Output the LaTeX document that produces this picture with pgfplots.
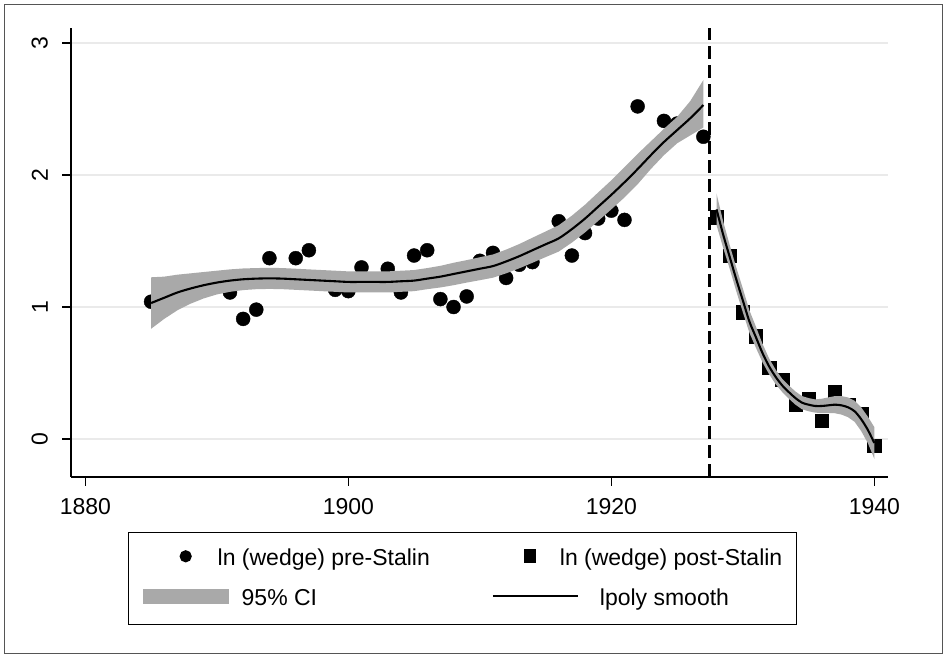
\documentclass[border=0pt]{standalone}
\usepackage{pgfplots}
\usepackage{pgfplotstable}
\pgfplotsset{compat=1.18}
\usepgfplotslibrary{fillbetween}
\usepackage{fontspec}
\setmainfont{Liberation Sans}
\definecolor{cigray}{HTML}{A9A9A9}
\definecolor{gridgray}{HTML}{EAEAEA}
\definecolor{framegray}{HTML}{555555}
\newcommand\lab{\fontsize{23bp}{27bp}\selectfont}
% extra layer so that band and fitted line sit over the observations
\pgfplotsset{layers/withpost/.define layer set={axis background,axis grid,axis ticks,axis lines,axis tick labels,pre main,main,post main,axis descriptions,axis foreground}{}}
\tikzset{fill between/on layer=post main}

% observed ln(wedge), before and after 1928
\pgfplotstableread{
year val
1885 1.04
1891 1.11
1892 0.91
1893 0.98
1894 1.37
1896 1.37
1897 1.43
1899 1.13
1900 1.12
1901 1.30
1903 1.29
1904 1.11
1905 1.39
1906 1.43
1907 1.06
1908 1.00
1909 1.08
1910 1.35
1911 1.41
1912 1.22
1913 1.32
1914 1.34
1916 1.65
1917 1.39
1918 1.56
1919 1.67
1920 1.73
1921 1.66
1922 2.52
1924 2.41
1925 2.39
1927 2.29
}\preobs

\pgfplotstableread{
year val
1928 1.68
1929 1.39
1930 0.96
1931 0.78
1932 0.54
1933 0.45
1934 0.26
1935 0.30
1936 0.14
1937 0.36
1938 0.26
1939 0.19
1940 -0.05
}\postobs

% lpoly fit with 95% band
\pgfplotstableread{
year fit lo hi
1885 1.03 0.835 1.225
1886 1.07 0.91 1.23
1887 1.11 0.975 1.245
1888 1.14 1.025 1.255
1889 1.165 1.065 1.265
1890 1.185 1.095 1.275
1891 1.20 1.115 1.285
1892 1.21 1.128 1.292
1893 1.215 1.135 1.295
1894 1.217 1.137 1.297
1895 1.215 1.135 1.295
1896 1.21 1.13 1.29
1897 1.205 1.125 1.285
1898 1.20 1.12 1.28
1899 1.195 1.115 1.275
1900 1.19 1.11 1.27
1901 1.19 1.11 1.27
1902 1.19 1.11 1.27
1903 1.19 1.11 1.27
1904 1.195 1.115 1.275
1905 1.20 1.12 1.28
1906 1.215 1.135 1.295
1907 1.23 1.148 1.312
1908 1.25 1.165 1.335
1909 1.27 1.185 1.355
1910 1.29 1.203 1.377
1911 1.31 1.222 1.398
1912 1.345 1.255 1.435
1913 1.385 1.293 1.477
1914 1.43 1.335 1.525
1915 1.475 1.378 1.572
1916 1.52 1.42 1.62
1917 1.59 1.488 1.692
1918 1.67 1.565 1.775
1919 1.76 1.652 1.868
1920 1.85 1.74 1.96
1921 1.945 1.83 2.06
1922 2.045 1.93 2.16
1923 2.15 2.045 2.255
1924 2.25 2.15 2.35
1925 2.34 2.24 2.44
1926 2.43 2.30 2.56
1927 2.53 2.36 2.72
}\prefit

\pgfplotstableread{
year fit lo hi
1928.0 1.74 1.62 1.86
1928.5 1.55 1.45 1.65
1929.0 1.38 1.29 1.47
1929.5 1.21 1.12 1.30
1930.0 1.05 0.96 1.14
1930.5 0.89 0.805 0.975
1931.0 0.77 0.69 0.85
1931.5 0.65 0.58 0.72
1932.0 0.55 0.49 0.61
1932.5 0.47 0.415 0.525
1933.0 0.405 0.355 0.455
1933.5 0.355 0.305 0.405
1934.0 0.31 0.26 0.36
1934.5 0.275 0.225 0.325
1935.0 0.26 0.21 0.31
1935.5 0.25 0.20 0.30
1936.0 0.25 0.195 0.305
1936.5 0.255 0.195 0.315
1937.0 0.26 0.195 0.325
1937.5 0.255 0.185 0.325
1938.0 0.24 0.165 0.315
1938.5 0.21 0.13 0.29
1939.0 0.15 0.06 0.24
1939.5 0.07 -0.03 0.17
1940.0 -0.03 -0.15 0.09
}\postfit

\begin{document}
\begin{tikzpicture}
\path (0bp,0bp) rectangle (947bp,658bp);
\draw[framegray, line width=1.2bp] (4.5bp,4.5bp) rectangle (942.5bp,653.5bp);
\begin{axis}[
  set layers=withpost,
  at={(71bp,181bp)}, anchor=south west,
  scale only axis, width=817bp, height=449bp,
  xmin=1878.91, xmax=1941.04, ymin=-0.288, ymax=3.114,
  axis x line*=bottom, axis y line*=left,
  axis line style={black, line width=1.2bp},
  xtick={1880,1900,1920,1940}, ytick={0,1,2,3},
  tick align=outside, major tick length=9bp,
  tick style={black, line width=1.2bp},
  ymajorgrids, grid style={gridgray, line width=1.5bp},
  /pgf/number format/assume math mode=true,
  /pgf/number format/1000 sep={},
  ticklabel style={font=\lab, inner sep=0bp},
  xticklabel style={yshift=-12bp},
  yticklabel style={xshift=-14bp, rotate=90, anchor=south},
  legend columns=2,
  legend cell align=left,
  legend style={at={(0.4792,-0.226)}, anchor=center,
    draw=black, line width=1.2bp, font=\lab,
    inner xsep=14bp, inner ysep=16.5bp, row sep=20.5bp,
    nodes={inner sep=0bp, text height=0.75em, text depth=0.25em},
    /tikz/column 1/.style={column sep=13bp},
    /tikz/column 2/.style={column sep=62bp},
    /tikz/column 3/.style={column sep=21bp}},
]
\addplot[only marks, mark=*, mark size=7bp, black,
  legend image code/.code={\path[draw=none, fill=none] (0bp,-2bp) rectangle (86bp,14bp);
    \fill[black] (43bp,7bp) circle[radius=5.5bp];}]
  table[x=year,y=val]{\preobs};
\addlegendentry{\hspace*{-24bp}ln (wedge) pre-Stalin}
\addplot[only marks, mark=square*, mark size=6.7bp, black,
  legend image code/.code={\path[draw=none, fill=none] (0bp,-2bp) rectangle (85bp,14bp);
    \fill[black] (32bp,0.5bp) rectangle (43bp,13.5bp);}]
  table[x=year,y=val]{\postobs};
\addlegendentry{\hspace*{-40bp}ln (wedge) post-Stalin}

\addplot[name path=preHi, draw=none, forget plot] table[x=year,y=hi]{\prefit};
\addplot[name path=preLo, draw=none, forget plot] table[x=year,y=lo]{\prefit};
\addplot[fill=cigray, draw=none,
  legend image code/.code={\fill[cigray] (0bp,-1bp) rectangle (86bp,14bp);}]
  fill between[of=preHi and preLo];
\addlegendentry{95\% CI}
\addplot[name path=postHi, draw=none, forget plot] table[x=year,y=hi]{\postfit};
\addplot[name path=postLo, draw=none, forget plot] table[x=year,y=lo]{\postfit};
\addplot[fill=cigray, draw=none, forget plot] fill between[of=postHi and postLo];

\addplot[on layer=post main, black, line width=2.1bp, smooth,
  legend image code/.code={\draw[black, line width=2bp] (0bp,6.5bp) -- (85bp,6.5bp);}]
  table[x=year,y=fit]{\prefit};
\addlegendentry{lpoly smooth}
\addplot[on layer=post main, black, line width=2.1bp, smooth, forget plot]
  table[x=year,y=fit]{\postfit};

\addplot[on layer=post main, black, line width=3bp, dash pattern=on 13bp off 6bp, forget plot]
  coordinates {(1927.5,-0.288) (1927.5,3.114)};
\end{axis}
\end{tikzpicture}
\end{document}
